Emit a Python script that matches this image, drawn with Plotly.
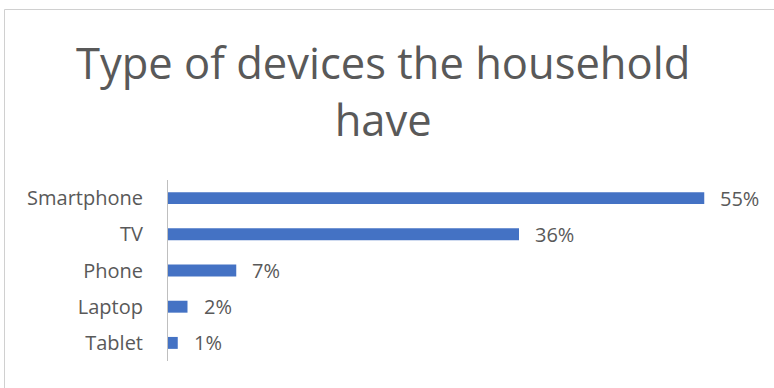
import plotly.graph_objects as go

devices = ["Smartphone", "TV", "Phone", "Laptop", "Tablet"]
shares = [55, 36, 7, 2, 1]
labels = [f"{v}%" for v in shares]

W, H = 774, 388
ML, MR, MT, MB = 168, 21, 180, 27
PW, PH = W - ML - MR, H - MT - MB
GRAY = "#595959"
FONT = "Open Sans"


def px_x(x):
    return (x - ML) / PW


def px_y(y):
    return (H - MB - y) / PH


fig = go.Figure()
fig.add_trace(go.Bar(
    y=devices, x=shares, orientation="h",
    marker=dict(color="#4472C4", line=dict(width=0)),
    hoverinfo="skip",
))

# value labels to the right of each bar
for d, v, t in zip(devices, shares, labels):
    fig.add_annotation(x=v, y=d, text=t, showarrow=False, xanchor="left",
                       xshift=14, font=dict(family=FONT, size=20, color=GRAY))

# chart title
fig.add_annotation(x=px_x(383), xref="paper", xanchor="center",
                   y=px_y(91), yref="paper", yanchor="middle", showarrow=False,
                   text="Type of devices the household<br>have",
                   font=dict(family=FONT, size=43.5, color=GRAY))

# outer chart frame
fig.add_shape(type="rect", xref="paper", yref="paper",
              x0=px_x(4.5), x1=px_x(790), y0=px_y(400), y1=px_y(9.5),
              line=dict(color="#D0D0D0", width=1), fillcolor="rgba(0,0,0,0)", layer="below")

fig.update_layout(
    width=W, height=H,
    margin=dict(l=ML, r=MR, t=MT, b=MB),
    paper_bgcolor="white", plot_bgcolor="white",
    showlegend=False, bargap=0.67,
    xaxis=dict(range=[0, 60], visible=False, fixedrange=True),
    yaxis=dict(categoryorder="array", categoryarray=devices[::-1],
               showline=True, linecolor="#BFBFBF", linewidth=1, ticks="",
               showgrid=False, ticklabelstandoff=20,
               tickfont=dict(family=FONT, size=20, color=GRAY)),
)

fig.write_html("out.html")
